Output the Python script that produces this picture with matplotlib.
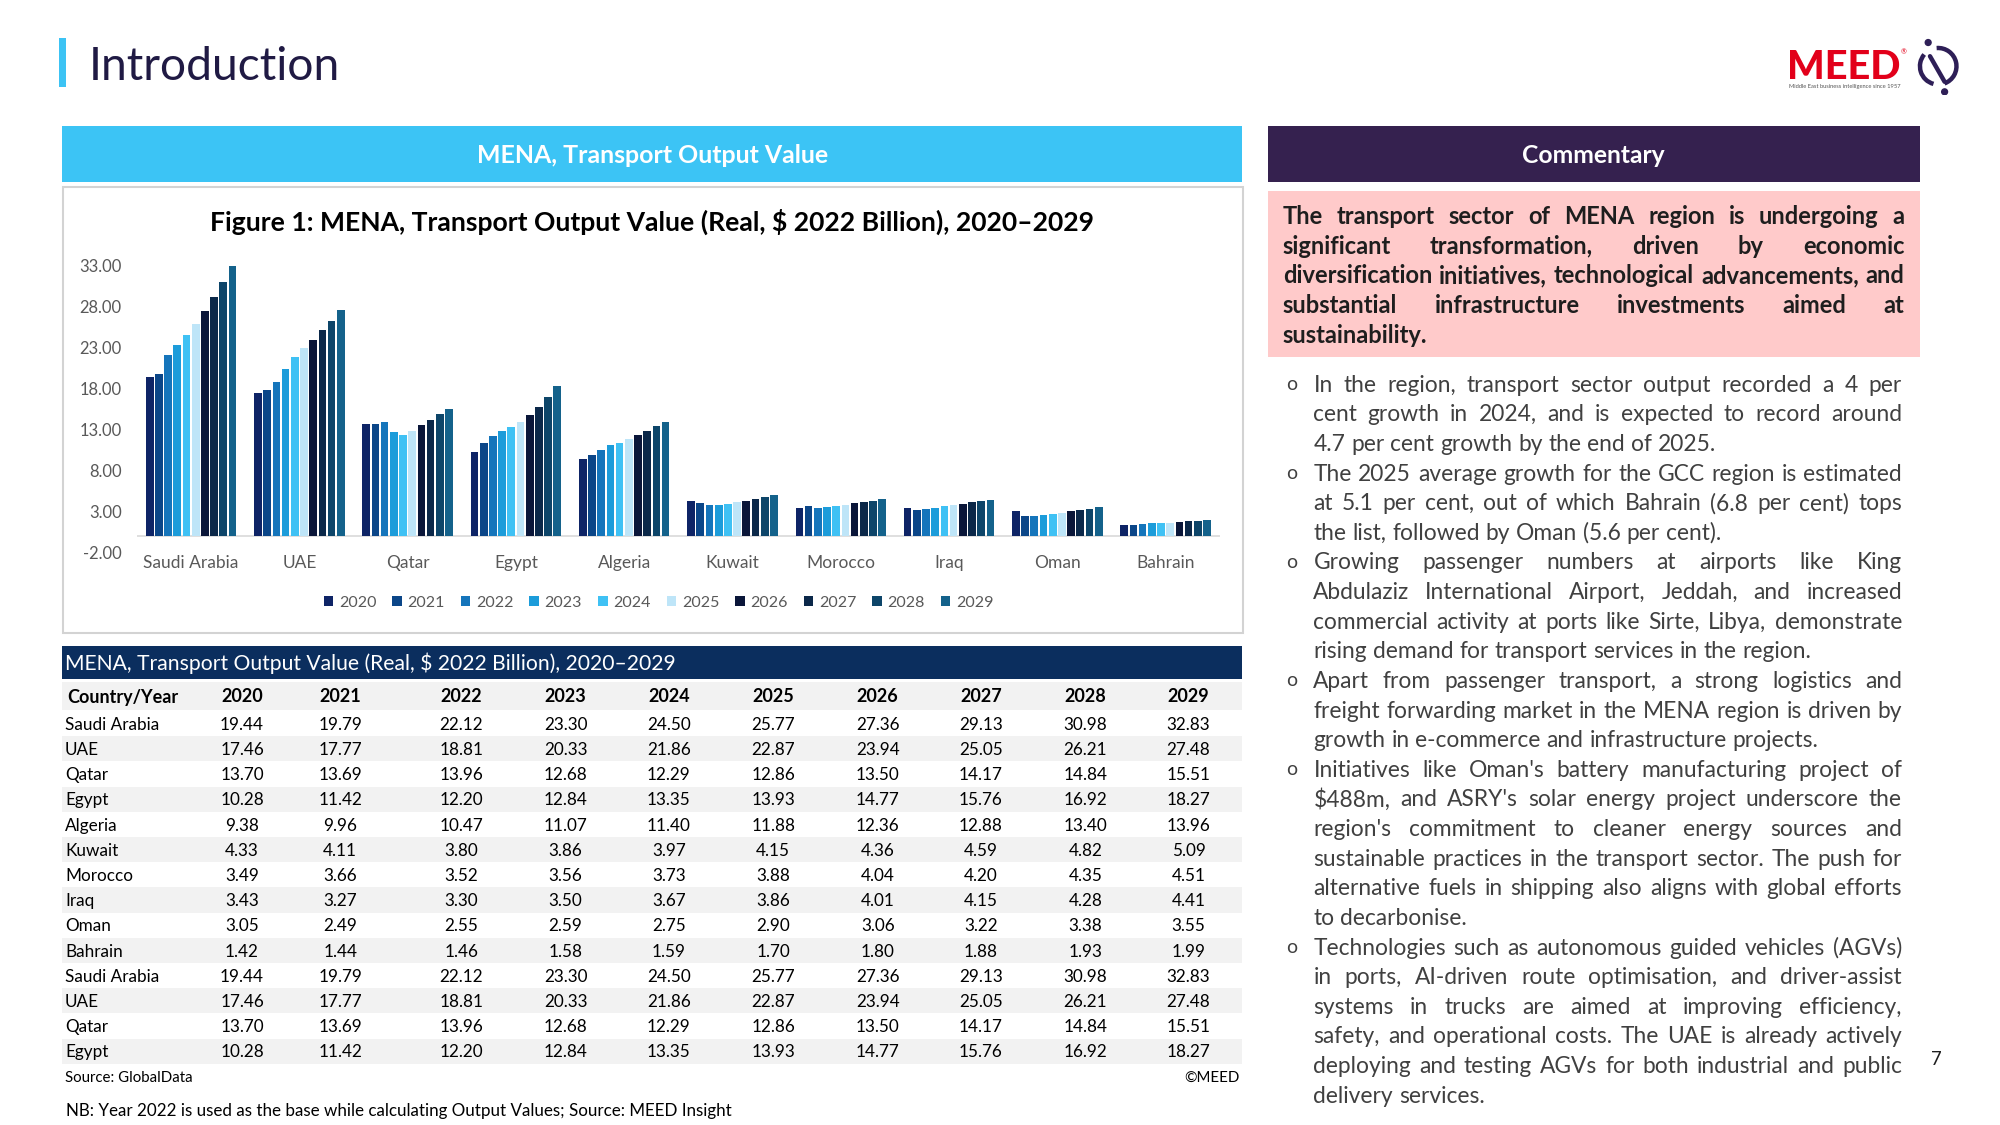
import matplotlib
matplotlib.use('Agg')
import matplotlib.pyplot as plt
from matplotlib.patches import Rectangle, Arc, Circle
import numpy as np

plt.rcParams['font.family'] = ['Lato', 'DejaVu Sans']
plt.rcParams['text.parse_math'] = False

# ---------------- data ----------------
countries = ['Saudi Arabia', 'UAE', 'Qatar', 'Egypt', 'Algeria', 'Kuwait',
             'Morocco', 'Iraq', 'Oman', 'Bahrain']
years = ['2020', '2021', '2022', '2023', '2024', '2025', '2026', '2027', '2028', '2029']
v2020 = [19.44, 17.46, 13.70, 10.28, 9.38, 4.33, 3.49, 3.43, 3.05, 1.42]
v2021 = [19.79, 17.77, 13.69, 11.42, 9.96, 4.11, 3.66, 3.27, 2.49, 1.44]
v2022 = [22.12, 18.81, 13.96, 12.20, 10.47, 3.80, 3.52, 3.30, 2.55, 1.46]
v2023 = [23.30, 20.33, 12.68, 12.84, 11.07, 3.86, 3.56, 3.50, 2.59, 1.58]
v2024 = [24.50, 21.86, 12.29, 13.35, 11.40, 3.97, 3.73, 3.67, 2.75, 1.59]
v2025 = [25.77, 22.87, 12.86, 13.93, 11.88, 4.15, 3.88, 3.86, 2.90, 1.70]
v2026 = [27.36, 23.94, 13.50, 14.77, 12.36, 4.36, 4.04, 4.01, 3.06, 1.80]
v2027 = [29.13, 25.05, 14.17, 15.76, 12.88, 4.59, 4.20, 4.15, 3.22, 1.88]
v2028 = [30.98, 26.21, 14.84, 16.92, 13.40, 4.82, 4.35, 4.28, 3.38, 1.93]
v2029 = [32.83, 27.48, 15.51, 18.27, 13.96, 5.09, 4.51, 4.41, 3.55, 1.99]
series = [v2020, v2021, v2022, v2023, v2024, v2025, v2026, v2027, v2028, v2029]
yticks = [-2, 3, 8, 13, 18, 23, 28, 33]
table_rows = countries + countries[:4]   # table repeats the first four countries

bar_colors = ['#0E2466', '#0B4688', '#1575BB', '#1C9CDA', '#3FC1F4',
              '#BEE5F8', '#0A1639', '#0B2849', '#0D4569', '#14628B']

pink_lines = [
    "The transport sector of MENA region is undergoing a",
    "significant transformation, driven by economic",
    "diversification initiatives, technological advancements, and",
    "substantial infrastructure investments aimed at",
    "sustainability.",
]
bullets = [
    ["In the region, transport sector output recorded a 4 per",
     "cent growth in 2024, and is expected to record around",
     "4.7 per cent growth by the end of 2025."],
    ["The 2025 average growth for the GCC region is estimated",
     "at 5.1 per cent, out of which Bahrain (6.8 per cent) tops",
     "the list, followed by Oman (5.6 per cent)."],
    ["Growing passenger numbers at airports like King",
     "Abdulaziz International Airport, Jeddah, and increased",
     "commercial activity at ports like Sirte, Libya, demonstrate",
     "rising demand for transport services in the region."],
    ["Apart from passenger transport, a strong logistics and",
     "freight forwarding market in the MENA region is driven by",
     "growth in e-commerce and infrastructure projects."],
    ["Initiatives like Oman's battery manufacturing project of",
     "$488m, and ASRY's solar energy project underscore the",
     "region's commitment to cleaner energy sources and",
     "sustainable practices in the transport sector. The push for",
     "alternative fuels in shipping also aligns with global efforts",
     "to decarbonise."],
    ["Technologies such as autonomous guided vehicles (AGVs)",
     "in ports, AI-driven route optimisation, and driver-assist",
     "systems in trucks are aimed at improving efficiency,",
     "safety, and operational costs. The UAE is already actively",
     "deploying and testing AGVs for both industrial and public",
     "delivery services."],
]

# ---------------- helpers ----------------
WD, HD = 1570.0, 883.0
SC = 2000.0 / WD

def X(x):
    return x / WD

def Y(y):
    return 1 - y / HD

fig = plt.figure(figsize=(20, 11.25), dpi=100)
R = fig.canvas.get_renderer()

def wpx(s, size, weight='normal'):
    t = fig.text(0, 0, s, fontsize=size, fontweight=weight)
    w = t.get_window_extent(R).width
    t.remove()
    return w

def fit(s, target, weight='normal'):
    return 20.0 * target * SC / wpx(s, 20, weight)

def base_of(y, size):
    # baseline (display coords) for text whose cap-height centre sits at y
    return y + 0.36 * size * 100 / 72 / SC

def txt(x, y, s, size, weight='normal', color='black', ha='left'):
    return fig.text(X(x), Y(base_of(y, size)), s, fontsize=size, fontweight=weight,
                    color=color, va='baseline', ha=ha)

def rect(x0, y0, x1, y1, **kw):
    fig.patches.append(Rectangle((X(x0), Y(y1)), X(x1) - X(x0), Y(y0) - Y(y1),
                                 transform=fig.transFigure, figure=fig, **kw))

def draw_lines(lines, lasts, x0, x1, ys, size, weight, color):
    sp = wpx('a a', size, weight) - wpx('aa', size, weight)
    for line, y, last in zip(lines, ys, lasts):
        words = line.split(' ')
        ws = [wpx(w, size, weight) for w in words]
        avail = (x1 - x0) * SC
        if not last and len(words) > 1:
            gap = (avail - sum(ws)) / (len(words) - 1)
        else:
            gap = sp
        xx = x0 * SC
        b = base_of(y, size)
        for w, wd in zip(words, ws):
            fig.text(xx / 2000.0, Y(b), w, fontsize=size, fontweight=weight,
                     color=color, va='baseline', ha='left')
            xx += wd + gap

# ---------------- page header ----------------
rect(46, 30, 52, 68, color='#3CC3F4', lw=0)
txt(70, 50, 'Introduction', fit('Introduction', 198), color='#201A44')

# MEED logo
fig.text(X(1403), Y(62), 'MEED', fontsize=fit('MEED', 89, 'black'), fontweight='black',
         color='#E2001A', va='baseline', ha='left')
fig.text(X(1492), Y(41), '®', fontsize=5, color='#E2001A', va='center', ha='left')
sub = 'Middle East business intelligence since 1957'
fig.text(X(1404), Y(68), sub, fontsize=fit(sub, 88), color='#555555', va='center', ha='left')
axl = fig.add_axes([X(1500), Y(76), X(1543) - X(1500), Y(28) - Y(76)])
axl.set_xlim(-1.5, 1.5); axl.set_ylim(-1.6, 1.6); axl.set_aspect('equal'); axl.axis('off')
axl.add_patch(Arc((0, 0), 2.0, 2.0, theta1=-70, theta2=95, lw=3.2, color='#2E1F57'))
axl.add_patch(Arc((0, 0), 2.0, 2.0, theta1=140, theta2=255, lw=3.2, color='#2E1F57'))
axl.plot([-0.45, 0.35], [0.55, -0.85], color='#2E1F57', lw=3.2, solid_capstyle='round')
axl.add_patch(Circle((-0.55, 1.3), 0.16, color='#2E1F57'))
axl.add_patch(Circle((0.35, -1.4), 0.16, color='#2E1F57'))

# ---------------- left panel headers ----------------
rect(49, 99, 975, 143, color='#3CC4F5', lw=0)
h1 = 'MENA, Transport Output Value'
txt(512, 121, h1, fit(h1, 276, 'bold'), 'bold', 'white', 'center')
rect(49.5, 147, 975.5, 497, facecolor='none', edgecolor='#D3D3D3', lw=1.5)
ct = 'Figure 1: MENA, Transport Output Value (Real, $ 2022 Billion), 2020\u20132029'
txt(512, 174, ct, fit(ct, 695, 'bold'), 'bold', 'black', 'center')

# ---------------- bar chart ----------------
ax = fig.add_axes([X(107.5), Y(434), (957.5 - 107.5) / WD, (434 - 208) / HD])
ax.patch.set_alpha(0)
x = np.arange(len(countries))
step = 0.085
handles = []
for j, (vals, col) in enumerate(zip(series, bar_colors)):
    b = ax.bar(x + (j - 4.5) * step, vals, width=0.071, color=col, label=years[j], zorder=2)
    handles.append(b)
ax.set_xlim(-0.5, len(countries) - 0.5)
ax.set_ylim(yticks[0], yticks[-1])
ax.axhline(0, color='#D9D9D9', lw=1.2, zorder=1)
for s in ax.spines.values():
    s.set_visible(False)
tick_fs = fit('33.00', 33)
ax.set_yticks(yticks)
ax.set_yticklabels(['%.2f' % t for t in yticks], fontsize=tick_fs, color='#595959')
ax.set_xticks(x)
ax.set_xticklabels(countries, fontsize=fit('Saudi Arabia', 75), color='#595959')
ax.tick_params(axis='both', length=0)
ax.tick_params(axis='y', pad=12 * SC * 0.72)
ax.tick_params(axis='x', pad=1.5)

leg_fs = fit('2020', 29)
ax.legend(handles=handles, labels=years, ncol=10, loc='center',
          bbox_to_anchor=(X(517), Y(473)), bbox_transform=fig.transFigure,
          frameon=False, fontsize=leg_fs, labelcolor='#595959',
          handlelength=0.6, handleheight=0.6, handletextpad=0.35,
          columnspacing=1.0, borderpad=0, borderaxespad=0)

# ---------------- table ----------------
rect(49, 507, 975, 533, color='#0B2E5E', lw=0)
tt = 'MENA, Transport Output Value (Real, $ 2022 Billion), 2020\u20132029'
txt(51, 520, tt, fit(tt, 481), color='white')
col_x = [190, 267, 362, 444, 525, 607, 689, 770, 852, 933]
hdr_fs = fit('Country/Year', 87, 'bold')
body_fs = fit('Saudi Arabia', 74)
rect(49, 535, 975, 557.5, color='#F2F2F2', lw=0)
txt(53, 547, 'Country/Year', hdr_fs, 'bold')
for cx, yr in zip(col_x, years):
    txt(cx, 546, yr, hdr_fs, 'bold', ha='center')
row_h = 19.77
for i, name in enumerate(table_rows):
    yc = 568 + i * row_h
    if i % 2 == 1:
        rect(49, yc - row_h / 2, 975, yc + row_h / 2, color='#F2F2F2', lw=0)
    k = countries.index(name)
    txt(51, yc, name, body_fs)
    for cx, vals in zip(col_x, series):
        txt(cx, yc, '%.2f' % vals[k], body_fs, ha='center')

src_fs = fit('Source: GlobalData', 100)
txt(51, 845, 'Source: GlobalData', src_fs)
txt(973, 845, '\u00a9MEED', src_fs, ha='right')
nb = 'NB: Year 2022 is used as the base while calculating Output Values; Source: MEED Insight'
txt(52, 871, nb, fit(nb, 524))

# ---------------- commentary ----------------
rect(995, 99, 1507, 143, color='#35214F', lw=0)
txt(1251, 121, 'Commentary', fit('Commentary', 112, 'bold'), 'bold', 'white', 'center')
rect(995, 150, 1507, 280, color='#FFCACA', lw=0)

pk_fs = fit(pink_lines[2], 488, 'bold') * 0.995
draw_lines(pink_lines, [False] * 4 + [True], 1007, 1495,
           [169 + i * 23.3 for i in range(5)], pk_fs, 'bold', '#1E1E1E')

all_lines = [l for b in bullets for l in b]
b_fs = min(fit(l, 462) for l in all_lines) * 0.995
yy = 301.0
for b in bullets:
    fig.text(X(1014), Y(yy + 1), 'o', fontsize=b_fs * 0.85, color='#404040',
             va='center', ha='center')
    ys = [yy + i * 23.25 for i in range(len(b))]
    draw_lines(b, [False] * (len(b) - 1) + [True], 1031, 1493, ys, b_fs, 'normal', '#404040')
    yy += 23.25 * len(b)

txt(1520, 831, '7', fit('7', 8.5), color='#1E1E1E', ha='center')

fig.savefig('out.png', dpi=100)
